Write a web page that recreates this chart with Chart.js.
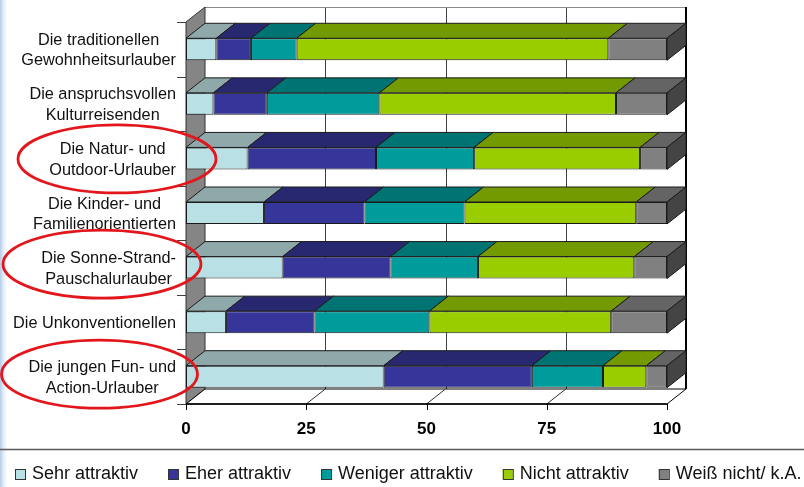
<!DOCTYPE html>
<html>
<head>
<meta charset="utf-8">
<script src="https://cdn.jsdelivr.net/npm/chart.js@4/dist/chart.umd.min.js"></script>
<style>
  html, body { margin: 0; padding: 0; background: #ffffff; }
  #wrap { width: 804px; height: 487px; position: relative; }
</style>
</head>
<body>
<div id="wrap"><canvas id="c" width="804" height="487"></canvas></div>
<script>
// Urlaubertypen (Kategorien) und Bewertungen in Prozent
const categories = [
  ['Die traditionellen', 'Gewohnheitsurlauber'],
  ['Die anspruchsvollen', 'Kulturreisenden'],
  ['Die Natur- und', 'Outdoor-Urlauber'],
  ['Die Kinder- und', 'Familienorientierten'],
  ['Die Sonne-Strand-', 'Pauschalurlauber'],
  ['Die Unkonventionellen'],
  ['Die jungen Fun- und', 'Action-Urlauber']
];
const seriesNames = ['Sehr attraktiv', 'Eher attraktiv', 'Weniger attraktiv', 'Nicht attraktiv', 'Weiß nicht/ k.A.'];
const sehrAttraktiv    = [6.3, 5.7, 12.8, 16.2, 20.1, 8.3, 41.1];
const eherAttraktiv    = [7.2, 11.1, 26.7, 20.9, 22.4, 18.4, 30.8];
const wenigerAttraktiv = [9.5, 23.4, 20.4, 20.8, 18.2, 23.9, 14.8];
const nichtAttraktiv   = [64.8, 49.2, 34.5, 35.7, 32.5, 37.8, 9.0];
const weissNicht       = [12.2, 10.6, 5.6, 6.4, 6.8, 11.6, 4.3];
const xTicks = [0, 25, 50, 75, 100];
// hervorgehobene Zielgruppen (rote Markierung)
const highlighted = [2, 4, 6];

const seriesValues = [sehrAttraktiv, eherAttraktiv, wenigerAttraktiv, nichtAttraktiv, weissNicht];
const frontColors = ['#b9e0e4', '#36369a', '#009c9c', '#9acd00', '#808080'];
const topColors   = ['#8fa8aa', '#282870', '#007373', '#739a00', '#646464'];
const sideColor   = '#444444';

const DEPTH_X = 19, DEPTH_Y = 15;
const FONT = '"Liberation Sans", Arial, sans-serif';

// Raumdarstellung: Rückwand, Seitenwand, Boden, Achsen, Beschriftungen, Legende
const scene3d = {
  id: 'scene3d',
  beforeDatasetsDraw(chart) {
    const ctx = chart.ctx;
    const ca = chart.chartArea;
    const xs = chart.scales.x, ys = chart.scales.y;
    const bx0 = ca.left + DEPTH_X, by0 = ca.top - DEPTH_Y;
    const bx1 = ca.right + DEPTH_X, by1 = ca.bottom - DEPTH_Y;
    ctx.save();

    // linker Farbverlauf am Bildrand
    const g = ctx.createLinearGradient(0, 0, 9, 0);
    g.addColorStop(0, 'rgba(175,200,232,0.95)');
    g.addColorStop(1, 'rgba(255,255,255,0)');
    ctx.fillStyle = g;
    ctx.fillRect(0, 0, 9, chart.height);

    // Trennlinie über der Legende
    ctx.strokeStyle = '#5a5a5a';
    ctx.lineWidth = 1.5;
    ctx.beginPath(); ctx.moveTo(0, 449.5); ctx.lineTo(chart.width, 449.5); ctx.stroke();

    // Rückwand
    ctx.fillStyle = '#ffffff';
    ctx.fillRect(bx0, by0, bx1 - bx0, by1 - by0);
    ctx.lineWidth = 1;
    ctx.strokeStyle = '#404040';
    xTicks.forEach(v => {
      if (v <= xs.min || v >= xs.max) return;
      const X = Math.round(xs.getPixelForValue(v) + DEPTH_X) + 0.5;
      ctx.beginPath(); ctx.moveTo(X, by0); ctx.lineTo(X, by1); ctx.stroke();
    });
    ctx.strokeStyle = '#8a8a8a';
    ctx.beginPath(); ctx.moveTo(bx0, by0 + 0.5); ctx.lineTo(bx1, by0 + 0.5); ctx.stroke();
    ctx.strokeStyle = '#000000';
    ctx.lineWidth = 2;
    ctx.beginPath(); ctx.moveTo(bx1, by0); ctx.lineTo(bx1, by1); ctx.stroke();

    // Seitenwand links
    ctx.lineWidth = 1;
    ctx.fillStyle = '#858585';
    ctx.strokeStyle = '#333333';
    ctx.beginPath();
    ctx.moveTo(ca.left, ca.top); ctx.lineTo(bx0, by0); ctx.lineTo(bx0, by1); ctx.lineTo(ca.left, ca.bottom);
    ctx.closePath(); ctx.fill(); ctx.stroke();

    // Boden
    ctx.fillStyle = '#ffffff';
    ctx.strokeStyle = '#000000';
    ctx.beginPath();
    ctx.moveTo(ca.left, ca.bottom); ctx.lineTo(bx0, by1); ctx.lineTo(bx1, by1); ctx.lineTo(ca.right, ca.bottom);
    ctx.closePath(); ctx.fill(); ctx.stroke();
    ctx.strokeStyle = '#303030';
    xTicks.forEach(v => {
      if (v <= xs.min || v >= xs.max) return;
      const X = xs.getPixelForValue(v);
      ctx.beginPath(); ctx.moveTo(X, ca.bottom); ctx.lineTo(X + DEPTH_X, by1); ctx.stroke();
    });
    ctx.strokeStyle = '#000000';
    ctx.lineWidth = 1.5;
    ctx.beginPath(); ctx.moveTo(ca.left, ca.bottom); ctx.lineTo(ca.right, ca.bottom); ctx.stroke();

    // X-Achse: Striche und Werte
    ctx.lineWidth = 1;
    ctx.fillStyle = '#000000';
    ctx.font = 'bold 17px ' + FONT;
    ctx.textAlign = 'center';
    ctx.textBaseline = 'alphabetic';
    xTicks.forEach(v => {
      const X = Math.round(xs.getPixelForValue(v)) + 0.5;
      ctx.beginPath(); ctx.moveTo(X, ca.bottom); ctx.lineTo(X, ca.bottom + 6); ctx.stroke();
      ctx.fillText(String(v), xs.getPixelForValue(v), 433.5);
    });

    // Y-Achse: Kategoriegrenzen
    ctx.strokeStyle = '#404040';
    for (let i = 0; i <= categories.length; i++) {
      const Y = Math.round(ys.getPixelForValue(i - 0.5)) + 0.5;
      ctx.beginPath(); ctx.moveTo(ca.left - 9, Y); ctx.lineTo(ca.left, Y); ctx.stroke();
    }

    // Kategoriebeschriftungen (zeilenweise zentriert, Block rechtsbündig)
    ctx.font = '16.3px ' + FONT;
    ctx.fillStyle = '#111111';
    const lineH = 20.6;
    categories.forEach((lines, i) => {
      const cy = ys.getPixelForValue(i);
      const widest = Math.max(...lines.map(t => ctx.measureText(t).width));
      const cx = ca.left - 10 - widest / 2;
      lines.forEach((t, j) => {
        ctx.fillText(t, cx, cy + 5.9 + (j - (lines.length - 1) / 2) * lineH);
      });
    });

    // Legende
    ctx.font = '18px ' + FONT;
    ctx.textAlign = 'left';
    let lx = 15;
    chart.data.datasets.forEach(ds => {
      ctx.fillStyle = ds.backgroundColor;
      ctx.fillRect(lx, 469, 10, 10);
      ctx.strokeStyle = '#333333';
      ctx.strokeRect(lx + 0.5, 469.5, 10, 10);
      ctx.fillStyle = '#111111';
      ctx.fillText(ds.label, lx + 17, 479.3);
      lx += 17 + ctx.measureText(ds.label).width + 30;
    });
    ctx.restore();
  },
  afterDatasetsDraw(chart) {
    // Ober- und Seitenflächen der gestapelten Balken
    const ctx = chart.ctx;
    const n = chart.data.datasets.length;
    ctx.save();
    ctx.lineWidth = 1;
    ctx.strokeStyle = '#1a1a1a';
    ctx.lineJoin = 'miter';
    for (let d = 0; d < n; d++) {
      const meta = chart.getDatasetMeta(d);
      meta.data.forEach(el => {
        const p = el.getProps(['x', 'y', 'base', 'height'], true);
        const l = Math.min(p.x, p.base), r = Math.max(p.x, p.base);
        const t = p.y - p.height / 2, b = p.y + p.height / 2;
        if (r - l <= 0) return;
        ctx.fillStyle = topColors[d];
        ctx.beginPath();
        ctx.moveTo(l, t); ctx.lineTo(l + DEPTH_X, t - DEPTH_Y);
        ctx.lineTo(r + DEPTH_X, t - DEPTH_Y); ctx.lineTo(r, t);
        ctx.closePath(); ctx.fill(); ctx.stroke();
        if (d === n - 1) {
          ctx.fillStyle = sideColor;
          ctx.beginPath();
          ctx.moveTo(r, t); ctx.lineTo(r + DEPTH_X, t - DEPTH_Y);
          ctx.lineTo(r + DEPTH_X, b - DEPTH_Y); ctx.lineTo(r, b);
          ctx.closePath(); ctx.fill(); ctx.stroke();
        }
      });
    }
    ctx.restore();
  },
  afterDraw(chart) {
    // rote Ellipsen um die hervorgehobenen Zielgruppen
    const ctx = chart.ctx;
    const ys = chart.scales.y;
    const shapes = { 2: { cx: 117, rx: 99, dy: 0.5 }, 4: { cx: 102, rx: 99, dy: -3.5 }, 6: { cx: 99.5, rx: 98, dy: -2.5 } };
    ctx.save();
    ctx.strokeStyle = '#e3161c';
    ctx.lineWidth = 2.8;
    highlighted.forEach(i => {
      const s = shapes[i];
      ctx.beginPath();
      ctx.ellipse(s.cx, ys.getPixelForValue(i) + s.dy, s.rx, 34, 0, 0, Math.PI * 2);
      ctx.stroke();
    });
    ctx.restore();
  }
};

new Chart(document.getElementById('c'), {
  type: 'bar',
  data: {
    labels: categories,
    datasets: seriesNames.map((name, i) => ({
      label: name,
      data: seriesValues[i],
      backgroundColor: frontColors[i],
      borderColor: '#1a1a1a',
      borderWidth: 1,
      borderSkipped: false,
      barPercentage: 0.403,
      categoryPercentage: 1
    }))
  },
  options: {
    indexAxis: 'y',
    responsive: false,
    animation: false,
    events: [],
    layout: { padding: { left: 186, right: 137, top: 22, bottom: 83 } },
    scales: {
      x: { stacked: true, min: 0, max: 100, display: false, ticks: { stepSize: 25 } },
      y: { stacked: true, display: false }
    },
    plugins: { legend: { display: false }, tooltip: { enabled: false } }
  },
  plugins: [scene3d]
});
</script>
</body>
</html>
